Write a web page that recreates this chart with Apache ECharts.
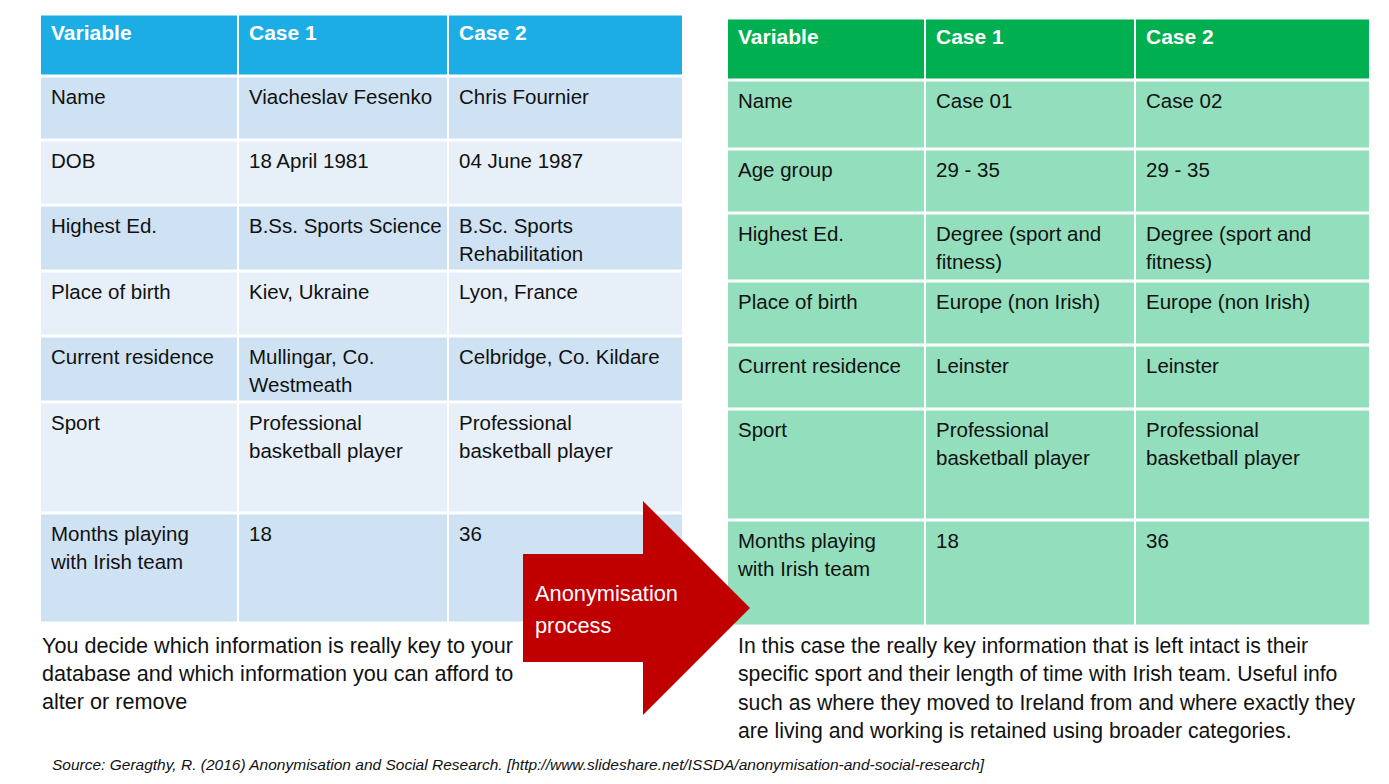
<!DOCTYPE html>
<html>
<head>
<meta charset="utf-8">
<title>Anonymisation example</title>
<script src="https://cdn.jsdelivr.net/npm/echarts@6/dist/echarts.min.js"></script>
<style>
  html, body { margin: 0; padding: 0; background: #fff; }
  #main { width: 1389px; height: 784px; }
</style>
</head>
<body>
<div id="main"></div>
<script>
// table content
var headers = ['Variable', 'Case 1', 'Case 2'];

var variablesOrig = ['Name', 'DOB', 'Highest Ed.', 'Place of birth', 'Current residence', 'Sport', 'Months playing\nwith Irish team'];
var case1Orig = ['Viacheslav Fesenko', '18 April 1981', 'B.Ss. Sports Science', 'Kiev, Ukraine', 'Mullingar, Co.\nWestmeath', 'Professional\nbasketball player', '18'];
var case2Orig = ['Chris Fournier', '04 June 1987', 'B.Sc. Sports\nRehabilitation', 'Lyon, France', 'Celbridge, Co. Kildare', 'Professional\nbasketball player', '36'];

var variablesAnon = ['Name', 'Age group', 'Highest Ed.', 'Place of birth', 'Current residence', 'Sport', 'Months playing\nwith Irish team'];
var case1Anon = ['Case 01', '29 - 35', 'Degree (sport and\nfitness)', 'Europe (non Irish)', 'Leinster', 'Professional\nbasketball player', '18'];
var case2Anon = ['Case 02', '29 - 35', 'Degree (sport and\nfitness)', 'Europe (non Irish)', 'Leinster', 'Professional\nbasketball player', '36'];

var arrowLabel = 'Anonymisation\nprocess';
var noteOrig = 'You decide which information is really key to your\ndatabase and which information you can afford to\nalter or remove';
var noteAnon = 'In this case the really key information that is left intact is their\nspecific sport and their length of time with Irish team. Useful info\nsuch as where they moved to Ireland from and where exactly they\nare living and working is retained using broader categories.';
var sourceText = 'Source: Geragthy, R. (2016) Anonymisation and Social Research. [http://www.slideshare.net/ISSDA/anonymisation-and-social-research]';

// layout, in page pixels (the hidden axes run 0..1389 and 0..784)
var tables = [
  {
    cols: [40, 238, 448, 683],
    rows: [14, 76, 140, 205, 271, 336, 402, 513, 623],
    head: '#1cade4',
    body: ['#cfe2f3', '#e7eff8'],
    columns: [variablesOrig, case1Orig, case2Orig]
  },
  {
    cols: [727, 925, 1135, 1370],
    rows: [18, 80, 149, 213, 281, 345, 409, 520, 626],
    head: '#00b050',
    body: ['#93dfbd', '#93dfbd'],
    columns: [variablesAnon, case1Anon, case2Anon]
  }
];
var arrowShape = [[523, 554], [643, 554], [643, 501], [750, 608], [643, 715], [643, 662], [523, 662]];
var FONT = '"Liberation Sans", Arial, sans-serif';

var cells = [];
tables.forEach(function (tb, t) {
  for (var r = 0; r < tb.rows.length - 1; r++) {
    for (var c = 0; c < 3; c++) {
      cells.push({
        value: [t, r, c],
        text: r === 0 ? headers[c] : tb.columns[c][r - 1]
      });
    }
  }
});

function renderCell(params, api) {
  var t = api.value(0), r = api.value(1), c = api.value(2);
  var tb = tables[t];
  var p0 = api.coord([tb.cols[c] + 1, tb.rows[r] + 1.5]);
  var p1 = api.coord([tb.cols[c + 1] - 1, tb.rows[r + 1] - 1.5]);
  var fill = r === 0 ? tb.head : tb.body[(r - 1) % 2];
  return {
    type: 'group',
    children: [
      {
        type: 'rect',
        shape: { x: p0[0], y: p0[1], width: p1[0] - p0[0], height: p1[1] - p0[1] },
        style: { fill: fill }
      },
      {
        type: 'text',
        x: p0[0] + 10,
        y: p0[1] + (r === 0 ? 3 : 5),
        style: {
          text: cells[params.dataIndex].text,
          fill: r === 0 ? '#ffffff' : '#111111',
          fontFamily: FONT,
          fontSize: r === 0 ? 21 : 20.5,
          fontWeight: r === 0 ? 'bold' : 'normal',
          lineHeight: 28,
          verticalAlign: 'top',
          align: 'left'
        }
      }
    ]
  };
}

function renderArrow(params, api) {
  var pts = arrowShape.map(function (p) { return api.coord(p); });
  var labelPos = api.coord([535, 577]);
  return {
    type: 'group',
    children: [
      { type: 'polygon', shape: { points: pts }, style: { fill: '#c00000' } },
      {
        type: 'text',
        x: labelPos[0],
        y: labelPos[1],
        style: {
          text: arrowLabel,
          fill: '#ffffff',
          fontFamily: FONT,
          fontSize: 21.8,
          lineHeight: 32,
          verticalAlign: 'top'
        }
      }
    ]
  };
}

var myChart = echarts.init(document.getElementById('main'), null, { renderer: 'svg' });

myChart.setOption({
  backgroundColor: '#ffffff',
  animation: false,
  grid: { left: 0, right: 0, top: 0, bottom: 0 },
  xAxis: { type: 'value', min: 0, max: 1389, show: false },
  yAxis: { type: 'value', min: 0, max: 784, inverse: true, show: false },
  graphic: [
    {
      type: 'text', left: 42, top: 631,
      style: { text: noteOrig, fill: '#111', fontFamily: FONT, fontSize: 21.6, lineHeight: 28 }
    },
    {
      type: 'text', left: 738, top: 631,
      style: { text: noteAnon, fill: '#111', fontFamily: FONT, fontSize: 21.2, lineHeight: 28.5 }
    },
    {
      type: 'text', left: 52, top: 756,
      style: { text: sourceText, fill: '#111', fontFamily: FONT, fontSize: 15.5, fontStyle: 'italic' }
    }
  ],
  series: [
    {
      type: 'custom',
      renderItem: renderCell,
      data: cells,
      silent: true,
      clip: false
    },
    {
      type: 'custom',
      renderItem: renderArrow,
      data: [[0]],
      silent: true,
      clip: false,
      z: 5
    }
  ]
});
</script>
</body>
</html>
